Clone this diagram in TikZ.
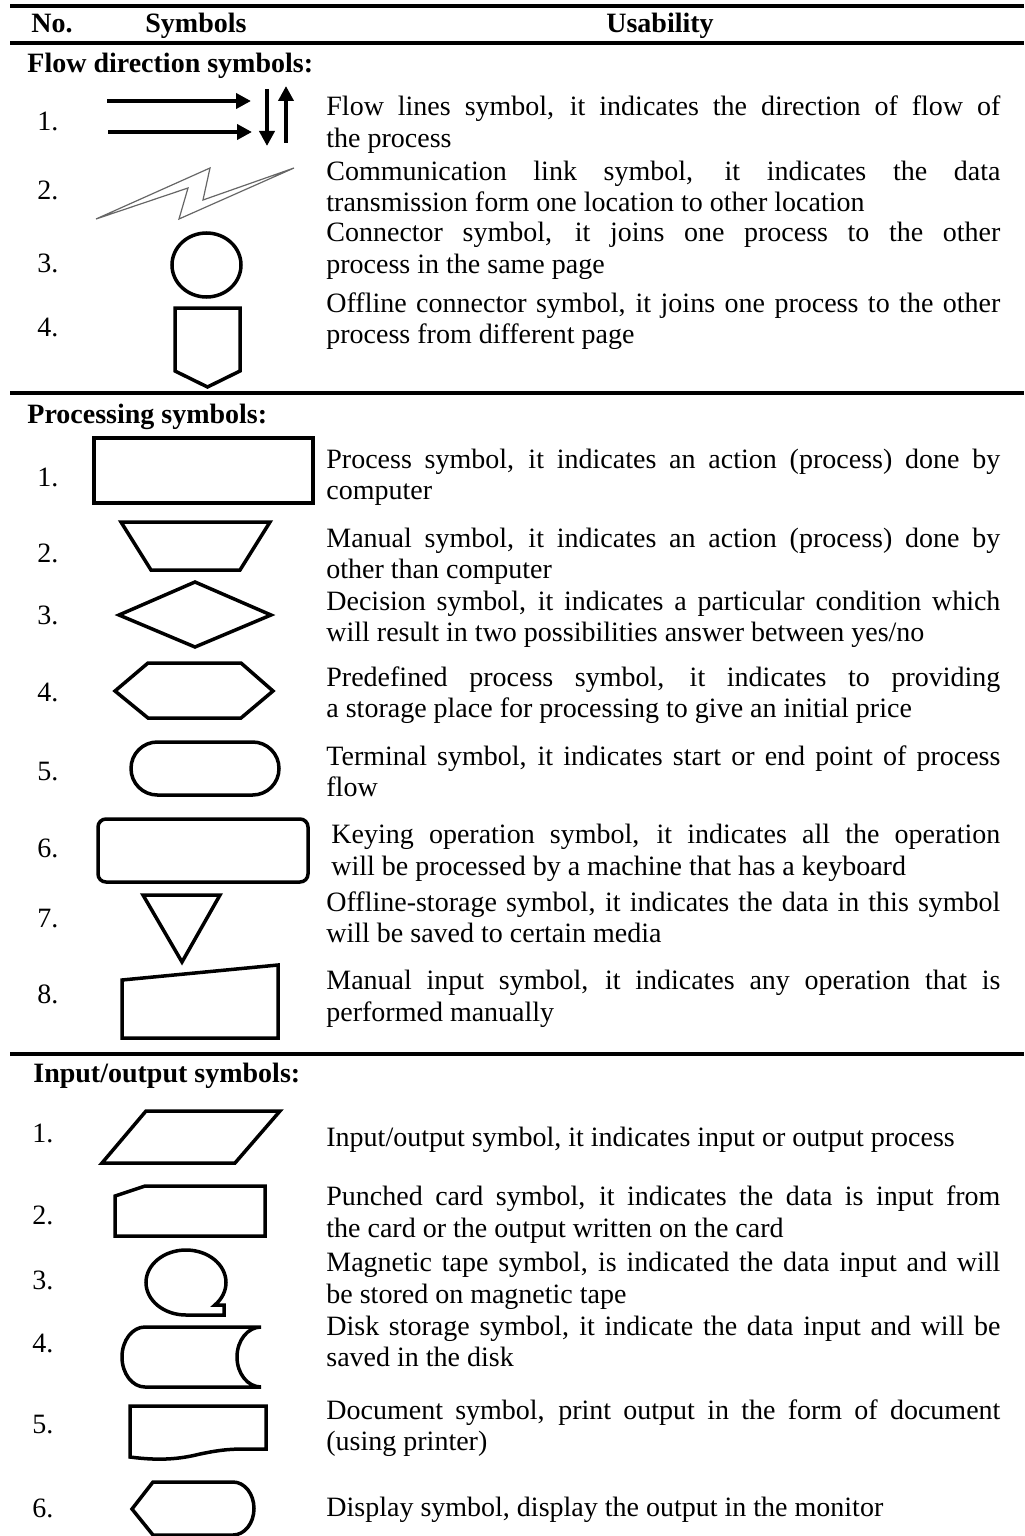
\documentclass[tikz,border=0pt]{standalone}
\usepackage{fontspec}
\setmainfont{Liberation Serif}
\usetikzlibrary{arrows.meta}
\newcommand\jl[1]{\makebox[337pt][s]{#1}}
\begin{document}
\begin{tikzpicture}[x=0.5pt,y=-0.5pt,
  txt/.style={anchor=base west,inner sep=0pt,font=\fontsize{14pt}{16pt}\selectfont},
  hd/.style={anchor=base west,inner sep=0pt,font=\fontsize{14pt}{16pt}\selectfont\bfseries},
  sym/.style={line width=1.75pt,line join=miter},
  tablerule/.style={line width=1.8pt},
  flowline/.style={line width=2pt,-{Triangle[length=7.5pt,width=7.5pt]}},
  bolt/.style={draw=black!60,line width=0.6pt,line join=miter}
]
\useasboundingbox (0,0) rectangle (1024,1536);
% rules
\draw[tablerule] (10,6) -- (1024,6);
\draw[tablerule] (10,43) -- (1024,43);
\draw[tablerule] (10,393) -- (1024,393);
\draw[tablerule] (10,1054) -- (1024,1054);
% header
\node[hd] (hno) at (31,33) {No.};
\node[hd,anchor=base] (hsym) at (196,33) {Symbols};
\node[hd,anchor=base] (husa) at (660,33) {Usability};
% section titles
\node[hd] (sec1) at (27,73) {Flow direction symbols:};
\node[hd] (sec2) at (27,423) {Processing symbols:};
\node[hd] (sec3) at (33,1082) {Input/output symbols:};
% ---------- flow direction ----------
\node[txt] (fn1) at (37,131) {1.};
\node[txt] (fn2) at (37,199) {2.};
\node[txt] (fn3) at (37,272) {3.};
\node[txt] (fn4) at (37,336) {4.};
\coordinate (a1s) at (107,101); \coordinate (a1e) at (251,101);
\coordinate (a2s) at (108,132); \coordinate (a2e) at (252,132);
\coordinate (a3s) at (267,89);  \coordinate (a3e) at (267,146);
\coordinate (a4s) at (286,143); \coordinate (a4e) at (286,86);
\draw[flowline] (a1s) -- (a1e);
\draw[flowline] (a2s) -- (a2e);
\draw[flowline] (a3s) -- (a3e);
\draw[flowline] (a4s) -- (a4e);
\draw[bolt] (96,219) -- (210,168) -- (203,200) -- (294,168) -- (179,219) -- (188,188) -- cycle;
\draw[sym] (206.5,265) ellipse[x radius=34.5,y radius=32];
\draw[sym] (175,308) -- (240,308) -- (240,371) -- (207.5,387) -- (175,371) -- cycle;
\node[txt] (f1a) at (326,116) {\jl{Flow lines symbol, it indicates the direction of flow of}};
\node[txt] (f1b) at (326,148) {the process};
\node[txt] (f2a) at (326,180) {\jl{Communication link symbol, it indicates the data}};
\node[txt] (f2b) at (326,211) {transmission form one location to other location};
\node[txt] (f3a) at (326,241) {\jl{Connector symbol, it joins one process to the other}};
\node[txt] (f3b) at (326,273) {process in the same page};
\node[txt] (f4a) at (326,312) {\jl{Offline connector symbol, it joins one process to the other}};
\node[txt] (f4b) at (326,343) {process from different page};
% ---------- processing ----------
\node[txt] (pn1) at (37,486) {1.};
\node[txt] (pn2) at (37,562) {2.};
\node[txt] (pn3) at (37,624) {3.};
\node[txt] (pn4) at (37,701) {4.};
\node[txt] (pn5) at (37,780) {5.};
\node[txt] (pn6) at (37,857) {6.};
\node[txt] (pn7) at (37,927) {7.};
\node[txt] (pn8) at (37,1003) {8.};
\draw[sym] (94,438) rectangle (313,503);
\draw[sym] (121,522) -- (270,522) -- (240,570) -- (151,570) -- cycle;
\draw[sym] (119,615) -- (195,582) -- (271,615) -- (195,647) -- cycle;
\draw[sym] (115,691) -- (148,663) -- (241,663) -- (273,691) -- (241,718) -- (148,718) -- cycle;
\draw[sym,rounded corners=13.2pt] (131,742) rectangle (279,795);
\draw[sym,rounded corners=4pt] (98,819) rectangle (308,882);
\draw[sym] (143,895) -- (220,895) -- (182,962) -- cycle;
\draw[sym] (122,980) -- (278,965) -- (278,1038) -- (122,1038) -- cycle;
\node[txt] (p1a) at (326,468) {\jl{Process symbol, it indicates an action (process) done by}};
\node[txt] (p1b) at (326,499) {computer};
\node[txt] (p2a) at (326,547) {\jl{Manual symbol, it indicates an action (process) done by}};
\node[txt] (p2b) at (326,578) {other than computer};
\node[txt] (p3a) at (326,610) {\jl{Decision symbol, it indicates a particular condition which}};
\node[txt] (p3b) at (326,641) {will result in two possibilities answer between yes/no};
\node[txt] (p4a) at (326,686) {\jl{Predefined process symbol, it indicates to providing}};
\node[txt] (p4b) at (326,717) {a storage place for processing to give an initial price};
\node[txt] (p5a) at (326,765) {\jl{Terminal symbol, it indicates start or end point of process}};
\node[txt] (p5b) at (326,796) {flow};
\node[txt] (p6a) at (331,843) {\makebox[334.5pt][s]{Keying operation symbol, it indicates all the operation}};
\node[txt] (p6b) at (331,875) {will be processed by a machine that has a keyboard};
\node[txt] (p7a) at (326,911) {\jl{Offline-storage symbol, it indicates the data in this symbol}};
\node[txt] (p7b) at (326,942) {will be saved to certain media};
\node[txt] (p8a) at (326,989) {\jl{Manual input symbol, it indicates any operation that is}};
\node[txt] (p8b) at (326,1021) {performed manually};
% ---------- input / output ----------
\node[txt] (in1) at (32,1142) {1.};
\node[txt] (in2) at (32,1224) {2.};
\node[txt] (in3) at (32,1289) {3.};
\node[txt] (in4) at (32,1352) {4.};
\node[txt] (in5) at (32,1433) {5.};
\node[txt] (in6) at (32,1517) {6.};
\draw[sym] (146,1111) -- (280,1111) -- (235,1163) -- (102,1163) -- cycle;
\draw[sym] (115,1236) -- (115,1196) -- (145,1186) -- (265,1186) -- (265,1236) -- cycle;
\draw[sym] (186,1315) arc[start angle=90,end angle=404,x radius=40,y radius=32.5] -- (224,1305) -- (224,1315) -- cycle;
\draw[sym] (261,1327) -- (145,1327) arc[start angle=270,end angle=90,x radius=23,y radius=30] -- (261,1387) arc[start angle=90,end angle=270,x radius=24,y radius=30] -- cycle;
\draw[sym] (130,1406) -- (266,1406) -- (266,1449) -- (245,1449) .. controls (225,1449) and (215,1451) .. (200,1454) .. controls (180,1459) and (160,1461) .. (130,1457) -- cycle;
\draw[sym] (132,1509) -- (153,1482) -- (233,1482) arc[start angle=270,end angle=450,x radius=21,y radius=26.5] -- (153,1535) -- cycle;
\node[txt] (i1a) at (326,1146) {Input/output symbol, it indicates input or output process};
\node[txt] (i2a) at (326,1205) {\jl{Punched card symbol, it indicates the data is input from}};
\node[txt] (i2b) at (326,1237) {the card or the output written on the card};
\node[txt] (i3a) at (326,1271) {\jl{Magnetic tape symbol, is indicated the data input and will}};
\node[txt] (i3b) at (326,1303) {be stored on magnetic tape};
\node[txt] (i4a) at (326,1335) {\jl{Disk storage symbol, it indicate the data input and will be}};
\node[txt] (i4b) at (326,1366) {saved in the disk};
\node[txt] (i5a) at (326,1419) {\jl{Document symbol, print output in the form of document}};
\node[txt] (i5b) at (326,1450) {(using printer)};
\node[txt] (i6a) at (326,1516) {Display symbol, display the output in the monitor};
\end{tikzpicture}
\end{document}
